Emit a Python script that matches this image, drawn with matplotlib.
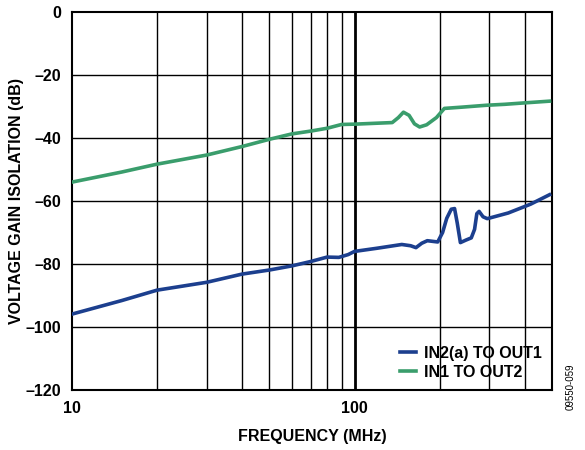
import matplotlib
matplotlib.use("Agg")
import matplotlib.pyplot as plt
from matplotlib.ticker import FixedLocator, NullFormatter, FixedFormatter

plt.rcParams['font.family'] = ['Liberation Sans', 'DejaVu Sans']

# IN1 TO OUT2 (green)
freq_green = [10, 15, 20, 30, 40, 50, 60, 70, 80, 90, 100, 120, 136, 143, 149, 156, 163, 170, 180, 195, 208, 240, 293, 340, 392, 490]
iso_green = [-54, -50.8, -48.3, -45.4, -42.7, -40.4, -38.7, -37.8, -36.9, -35.7, -35.6, -35.3, -35.1, -33.5, -31.8, -32.8, -35.5, -36.5, -35.8, -33.5, -30.6, -30.2, -29.6, -29.3, -28.9, -28.3]

# IN2(a) TO OUT1 (blue)
freq_blue = [10, 15, 20, 30, 40, 50, 60, 70, 80, 88, 95, 100, 120, 147, 158, 165, 173, 181, 197, 205, 212, 220, 226, 231, 237, 248, 259, 266, 271, 276, 285, 295, 350, 420, 490]
iso_blue = [-95.9, -91.6, -88.3, -85.8, -83.2, -81.9, -80.6, -79.2, -77.8, -77.9, -77.0, -76.0, -75.0, -73.8, -74.2, -74.8, -73.4, -72.6, -73.0, -70.0, -65.5, -62.6, -62.4, -67.0, -73.2, -72.4, -71.7, -69.0, -64.0, -63.3, -65.0, -65.6, -63.8, -61.0, -58.0]

y_ticks = [0, -20, -40, -60, -80, -100, -120]
y_tick_labels = ['0', '–20', '–40', '–60', '–80', '–100', '–120']
x_tick_labels = ['10', '100']

blue = '#1c3f8e'
green = '#3a9d6c'
fs = 11.5

fig = plt.figure(figsize=(5.85, 4.5), dpi=100)
ax = fig.add_axes([0.123, 0.1333, 0.8206, 0.84])

ax.set_xscale('log')
ax.set_xlim(10, 500)
ax.set_ylim(-120, 0)

minor = [20, 30, 40, 50, 60, 70, 80, 90, 200, 300, 400]
for f in minor:
    ax.axvline(f, color='black', lw=1.0, zorder=1)
ax.axvline(100, color='black', lw=2.0, zorder=1)
for y in y_ticks[1:-1]:
    ax.axhline(y, color='black', lw=1.0, zorder=1)

l1, = ax.plot(freq_blue, iso_blue, color=blue, lw=2.6, zorder=3, label='IN2(a) TO OUT1')
l2, = ax.plot(freq_green, iso_green, color=green, lw=2.6, zorder=3, label='IN1 TO OUT2')

ax.xaxis.set_major_locator(FixedLocator([10, 100]))
ax.xaxis.set_major_formatter(FixedFormatter(x_tick_labels))
ax.xaxis.set_minor_locator(FixedLocator(minor))
ax.xaxis.set_minor_formatter(NullFormatter())
ax.set_yticks(y_ticks)
ax.set_yticklabels(y_tick_labels)
ax.tick_params(axis='both', which='both', length=0, labelsize=fs)
for lab in ax.get_xticklabels() + ax.get_yticklabels():
    lab.set_fontweight('bold')
ax.tick_params(axis='x', pad=8)
ax.tick_params(axis='y', pad=8)

for s in ax.spines.values():
    s.set_linewidth(1.5)

ax.set_xlabel('FREQUENCY (MHz)', fontsize=fs, fontweight='bold', labelpad=9)
ax.set_ylabel('VOLTAGE GAIN ISOLATION (dB)', fontsize=fs, fontweight='bold')
ax.yaxis.set_label_coords(-0.1, 0.5)

leg = ax.legend(handles=[l1, l2], loc='lower right', frameon=False, fontsize=fs,
                handlelength=1.0, handletextpad=0.5, borderaxespad=0.25, labelspacing=0.25)
for t in leg.get_texts():
    t.set_fontweight('bold')
leg.set_zorder(5)

fig.text(0.975, 0.14, '09550-059', rotation=90, fontsize=7, ha='center', va='center')

fig.savefig('out.png', dpi=100)
